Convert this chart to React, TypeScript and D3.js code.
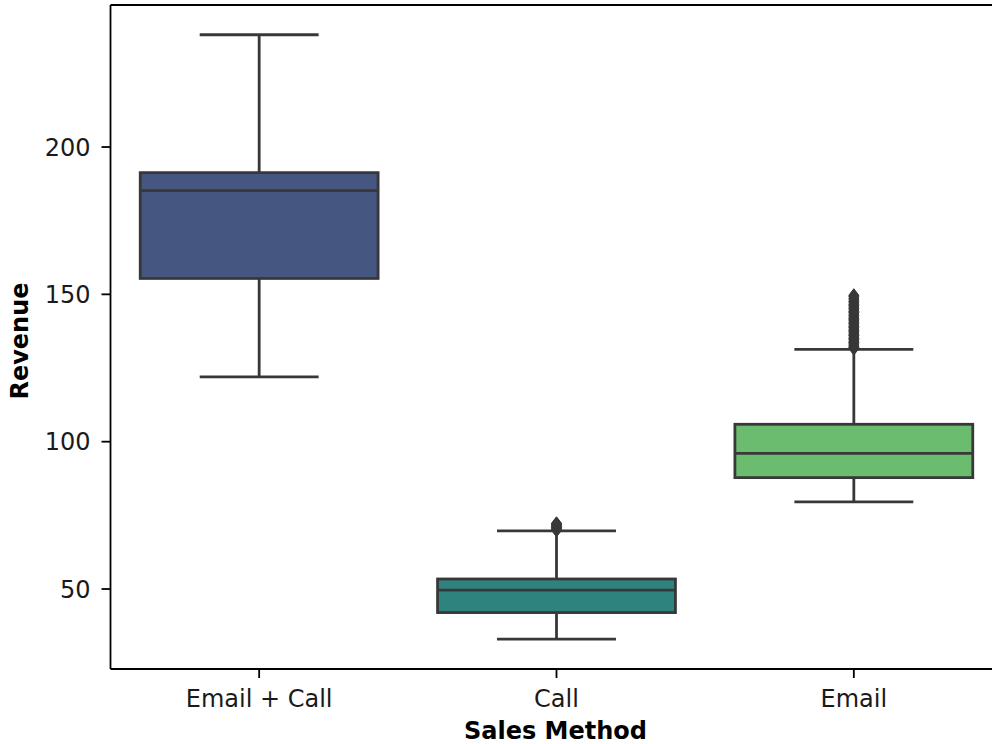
import React, { useEffect, useRef } from "react";
import * as d3 from "d3";

const categories = ["Email + Call", "Call", "Email"];
const whiskerLow = [122.0, 33.0, 79.6];
const q1 = [155.4, 42.0, 87.8];
const medians = [185.2, 49.6, 96.0];
const q3 = [191.3, 53.4, 105.9];
const whiskerHigh = [238.1, 69.7, 131.3];
const outliersEmailCall: number[] = [];
const outliersCall = [69.9, 70.2, 70.5, 70.8, 71.0, 71.3, 71.6, 71.9, 72.1, 72.3];
const outliersEmail = [
  131.6, 132.0, 132.4, 132.8, 133.2, 133.7, 134.1, 134.6, 135.0, 135.5,
  136.0, 136.4, 136.9, 137.3, 137.8, 138.2, 138.7, 139.1, 139.6, 140.0,
  140.5, 141.0, 141.4, 141.9, 142.3, 142.8, 143.3, 143.8, 144.2, 144.7,
  145.2, 145.7, 146.1, 146.6, 147.1, 147.6, 148.1, 148.7, 149.2, 149.7,
];
const outliers = [outliersEmailCall, outliersCall, outliersEmail];
const yTicks = [50, 100, 150, 200];
const boxColors = ["#455681", "#2f837f", "#6bbc6e"];
const xLabel = "Sales Method";
const yLabel = "Revenue";

const W = 992;
const H = 744;
const left = 110.5;
const top = 5;
const bottom = 669;
const plotW = 892;
const lineColor = "#383838";
const font = "'DejaVu Sans', sans-serif";

export default function App() {
  const ref = useRef<SVGSVGElement | null>(null);

  useEffect(() => {
    const svg = d3.select(ref.current);
    svg.selectAll("*").remove();

    const x = d3.scaleBand<string>().domain(categories).range([left, left + plotW]).padding(0);
    const y = d3.scaleLinear().domain([22.85, 248.2]).range([bottom, top]);
    const bw = x.bandwidth();
    const boxW = bw * 0.8;
    const capW = bw * 0.4;

    const g = svg.append("g");

    categories.forEach((c, i) => {
      const cx = x(c)! + bw / 2;
      const grp = g.append("g");
      // whiskers
      grp.append("line").attr("x1", cx).attr("x2", cx)
        .attr("y1", y(q3[i])).attr("y2", y(whiskerHigh[i]))
        .attr("stroke", lineColor).attr("stroke-width", 2.8);
      grp.append("line").attr("x1", cx).attr("x2", cx)
        .attr("y1", y(q1[i])).attr("y2", y(whiskerLow[i]))
        .attr("stroke", lineColor).attr("stroke-width", 2.8);
      // caps
      [whiskerHigh[i], whiskerLow[i]].forEach((v) => {
        grp.append("line").attr("x1", cx - capW / 2).attr("x2", cx + capW / 2)
          .attr("y1", y(v)).attr("y2", y(v))
          .attr("stroke", lineColor).attr("stroke-width", 2.8);
      });
      // box
      grp.append("rect")
        .attr("x", cx - boxW / 2).attr("width", boxW)
        .attr("y", y(q3[i])).attr("height", y(q1[i]) - y(q3[i]))
        .attr("fill", boxColors[i]).attr("stroke", lineColor).attr("stroke-width", 2.8);
      // median
      grp.append("line").attr("x1", cx - boxW / 2).attr("x2", cx + boxW / 2)
        .attr("y1", y(medians[i])).attr("y2", y(medians[i]))
        .attr("stroke", lineColor).attr("stroke-width", 2.8);
      // outliers (thin diamonds)
      const hh = 6.5;
      const hw = 5;
      outliers[i].forEach((v) => {
        const py = y(v);
        grp.append("path")
          .attr("d", `M${cx},${py - hh}L${cx + hw},${py}L${cx},${py + hh}L${cx - hw},${py}Z`)
          .attr("fill", lineColor).attr("stroke", lineColor).attr("stroke-width", 1);
      });
    });

    // spines
    const sp = g.append("g").attr("stroke", "#000").attr("stroke-width", 1.8).attr("fill", "none");
    sp.append("line").attr("x1", left).attr("x2", left + plotW).attr("y1", top).attr("y2", top);
    sp.append("line").attr("x1", left).attr("x2", left + plotW).attr("y1", bottom).attr("y2", bottom);
    sp.append("line").attr("x1", left).attr("x2", left).attr("y1", top).attr("y2", bottom);
    sp.append("line").attr("x1", left + plotW).attr("x2", left + plotW).attr("y1", top).attr("y2", bottom);

    // y ticks
    yTicks.forEach((t) => {
      const py = y(t);
      g.append("line").attr("x1", left - 9).attr("x2", left).attr("y1", py).attr("y2", py)
        .attr("stroke", "#000").attr("stroke-width", 1.8);
      g.append("text").attr("x", left - 20).attr("y", py + 8.7)
        .attr("text-anchor", "end").attr("font-family", font).attr("font-size", 24)
        .attr("fill", "#1a1a1a").text(String(t));
    });

    // x ticks
    categories.forEach((c) => {
      const cx = x(c)! + bw / 2;
      g.append("line").attr("x1", cx).attr("x2", cx).attr("y1", bottom).attr("y2", bottom + 9)
        .attr("stroke", "#000").attr("stroke-width", 1.8);
      g.append("text").attr("x", cx).attr("y", 707)
        .attr("text-anchor", "middle").attr("font-family", font).attr("font-size", 24)
        .attr("fill", "#1a1a1a").text(c);
    });

    // axis labels
    g.append("text").attr("x", left + plotW / 2 - 1).attr("y", 739)
      .attr("text-anchor", "middle").attr("font-family", font).attr("font-size", 24)
      .attr("font-weight", "bold").attr("fill", "#000").text(xLabel);
    g.append("text").attr("transform", `translate(27.5, ${(top + bottom) / 2 + 4}) rotate(-90)`)
      .attr("text-anchor", "middle").attr("font-family", font).attr("font-size", 24)
      .attr("font-weight", "bold").attr("fill", "#000").text(yLabel);
  }, []);

  return (
    <svg
      ref={ref}
      width={W}
      height={H}
      style={{ position: "absolute", left: 0, top: 0, background: "#fff", display: "block" }}
    />
  );
}
